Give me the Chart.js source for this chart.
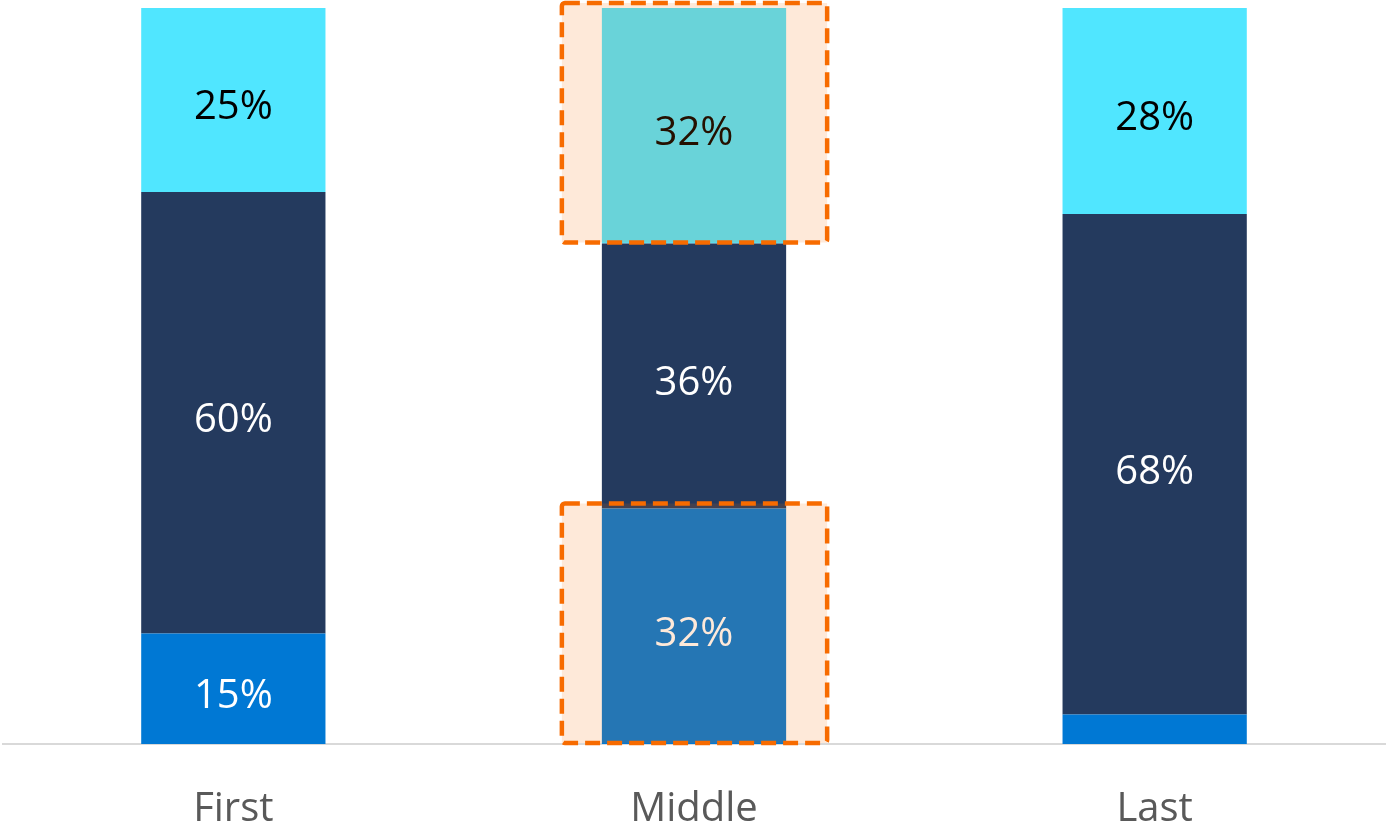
<!DOCTYPE html>
<html>
<head>
  <title>First / Middle / Last</title>
  <script src="https://cdn.jsdelivr.net/npm/chart.js"></script>
  <style>
    html, body { margin: 0; padding: 0; background: #fff; }
    #wrap { width: 1386px; height: 828px; }
  </style>
</head>
<body>
  <div id="wrap"><canvas id="chart"></canvas></div>

  <script>
    const categories = ["First", "Middle", "Last"];
    const bottomShare = [15, 32, 4];
    const middleShare = [60, 36, 68];
    const topShare = [25, 32, 28];

    // segments to call out: [category index, dataset index]
    const highlights = [[1, 2], [1, 0]];

    const labelColors = ["#ffffff", "#ffffff", "#000000"];

    // writes the % value in the middle of every segment big enough to hold it
    const segmentLabels = {
      id: "segmentLabels",
      afterDatasetsDraw(chart) {
        const ctx = chart.ctx;
        ctx.save();
        ctx.font = "40px 'Open Sans'";
        ctx.textAlign = "center";
        ctx.textBaseline = "middle";
        chart.data.datasets.forEach((ds, di) => {
          chart.getDatasetMeta(di).data.forEach((bar, i) => {
            const v = ds.data[i];
            if (v < 8) return;
            ctx.fillStyle = labelColors[di];
            ctx.fillText(v + "%", bar.x, (bar.y + bar.base) / 2 + 8);
          });
        });
        ctx.restore();
      }
    };

    // orange tint + dashed frame over the called-out segments
    const callouts = {
      id: "callouts",
      afterDraw(chart) {
        const ctx = chart.ctx;
        ctx.save();
        highlights.forEach(([i, di]) => {
          const bar = chart.getDatasetMeta(di).data[i];
          const x0 = bar.x - bar.width / 2 - 40;
          const x1 = bar.x + bar.width / 2 + 41;
          const y0 = Math.min(bar.y, bar.base) - 5;
          const y1 = Math.max(bar.y, bar.base) - 1;
          ctx.fillStyle = "rgba(250,105,0,0.15)";
          ctx.fillRect(x0, y0, x1 - x0, y1 - y0);
          ctx.setLineDash([15, 7]);
          ctx.lineWidth = 4.5;
          ctx.strokeStyle = "#F76B00";
          ctx.beginPath();
          ctx.roundRect(x0, y0, x1 - x0, y1 - y0, 3);
          ctx.stroke();
        });
        ctx.restore();
      }
    };

    new Chart(document.getElementById("chart"), {
      type: "bar",
      data: {
        labels: categories,
        datasets: [
          { data: bottomShare, backgroundColor: "#0078D4" },
          { data: middleShare, backgroundColor: "#243A5E" },
          { data: topShare, backgroundColor: "#50E6FF" }
        ]
      },
      options: {
        responsive: true,
        maintainAspectRatio: false,
        animation: false,
        events: [],
        barPercentage: 0.4,
        categoryPercentage: 1,
        borderWidth: 0,
        layout: { padding: { left: 3, right: 1, top: 8, bottom: 0 } },
        plugins: {
          legend: { display: false },
          tooltip: { enabled: false }
        },
        scales: {
          x: {
            stacked: true,
            grid: { display: false, drawTicks: false },
            border: { display: true, color: "#D9D9D9", width: 2 },
            ticks: {
              color: "#595959",
              padding: 42,
              font: { family: "'Open Sans'", size: 40 }
            },
            afterFit(scale) { scale.height = 84; }
          },
          y: {
            stacked: true,
            display: false,
            min: 0,
            max: 100
          }
        }
      },
      plugins: [segmentLabels, callouts]
    });
  </script>
</body>
</html>
